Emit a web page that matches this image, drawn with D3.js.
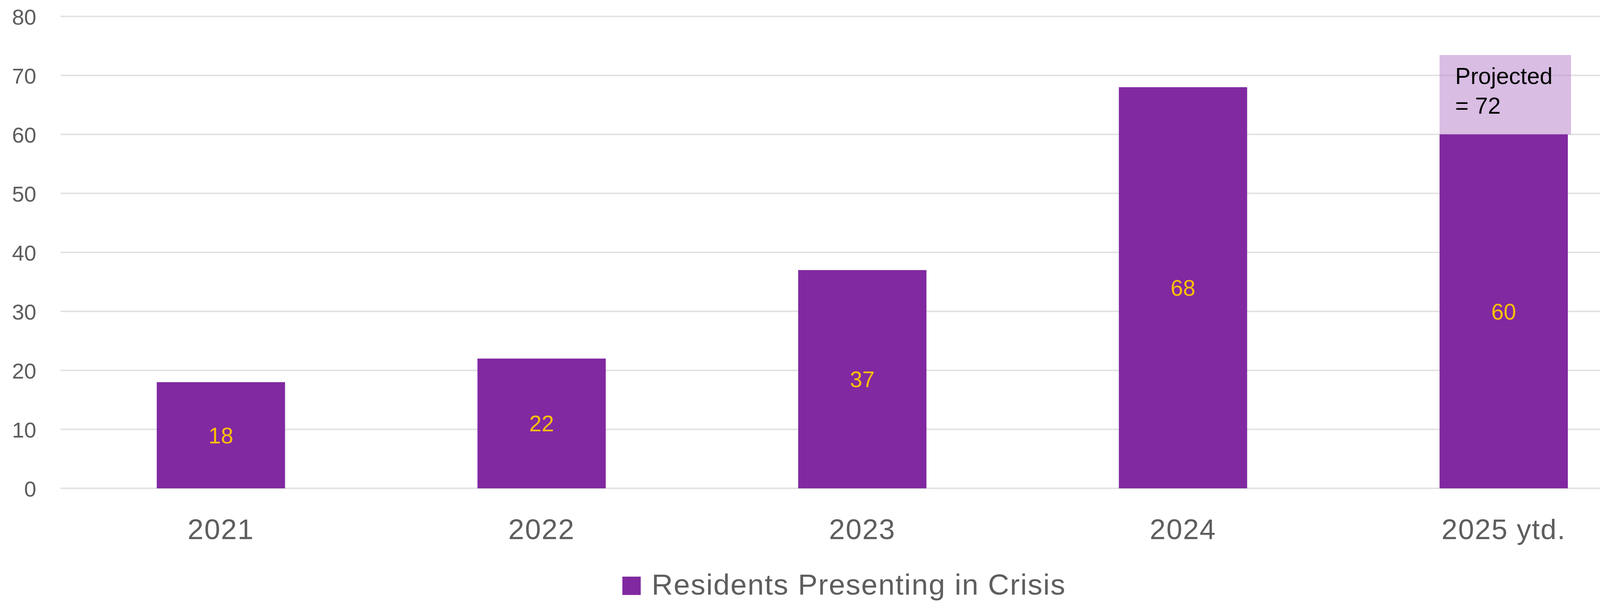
<!DOCTYPE html>
<html>
<head>
<meta charset="utf-8">
<script src="https://cdn.jsdelivr.net/npm/d3@7"></script>
<style>
  html, body { margin: 0; padding: 0; background: #ffffff; overflow: hidden; }
  svg { display: block; }
  text { font-family: "Liberation Sans", Arial, sans-serif; }
</style>
</head>
<body>
<svg id="chart" width="4284" height="1564"></svg>
<script>
// ---- data ----
const categories = ["2021", "2022", "2023", "2024", "2025 ytd."];
const values = [18, 22, 37, 68, 60];
const seriesName = "Residents Presenting in Crisis";
const yTicks = [0, 10, 20, 30, 40, 50, 60, 70, 80];
const projectedCategory = "2025 ytd.";
const projectedValue = 72;
const projectedLines = ["Projected", "= " + projectedValue];

// ---- layout ----
const plot = { left: 155, right: 4260, top: 42, bottom: 1250 };
const barColor = "#8129A1";
const labelColor = "#FFC000";
const axisText = "#5E5E5E";
const gridColor = "#E3E3E3";

const svg = d3.select("#chart");

const x = d3.scaleBand()
  .domain(categories)
  .range([plot.left, plot.right])
  .paddingInner(0.6)
  .paddingOuter(0.3);

const y = d3.scaleLinear()
  .domain([0, 80])
  .range([plot.bottom, plot.top]);

// gridlines
svg.append("g")
  .selectAll("line")
  .data(yTicks)
  .join("line")
  .attr("x1", plot.left)
  .attr("x2", plot.right)
  .attr("y1", d => y(d))
  .attr("y2", d => y(d))
  .attr("stroke", gridColor)
  .attr("stroke-width", 4);

// y-axis labels
const yAxis = d3.axisLeft(y).tickValues(yTicks).tickSize(0).tickPadding(0);
const yg = svg.append("g")
  .attr("transform", `translate(93,0)`)
  .call(yAxis);
yg.select(".domain").remove();
yg.selectAll("text")
  .attr("font-size", 56)
  .attr("fill", axisText)
  .attr("dy", "0.36em")
  .style("font-family", '"Liberation Sans", Arial, sans-serif');

// bars
svg.append("g")
  .selectAll("rect")
  .data(categories)
  .join("rect")
  .attr("x", d => x(d))
  .attr("width", x.bandwidth())
  .attr("y", (d, i) => y(values[i]))
  .attr("height", (d, i) => y(0) - y(values[i]))
  .attr("fill", barColor);

// value labels
svg.append("g")
  .selectAll("text")
  .data(categories)
  .join("text")
  .attr("x", d => x(d) + x.bandwidth() / 2)
  .attr("y", (d, i) => (y(values[i]) + y(0)) / 2)
  .attr("dy", "0.36em")
  .attr("text-anchor", "middle")
  .attr("font-size", 57)
  .attr("fill", labelColor)
  .text((d, i) => values[i]);

// x-axis labels
const xAxis = d3.axisBottom(x).tickSize(0).tickPadding(0);
const xg = svg.append("g")
  .attr("transform", `translate(0,1380)`)
  .call(xAxis);
xg.select(".domain").remove();
xg.selectAll("text")
  .attr("font-size", 73)
  .attr("fill", axisText)
  .attr("dy", 0)
  .attr("y", 0)
  .style("letter-spacing", "2px")
  .style("font-family", '"Liberation Sans", Arial, sans-serif');

// projected annotation box
const pIdx = categories.indexOf(projectedCategory);
const bx = x(projectedCategory);
const boxTop = y(projectedValue) - 22;
const boxBottom = y(values[pIdx]);
const ann = svg.append("g");
ann.append("rect")
  .attr("x", bx)
  .attr("y", boxTop)
  .attr("width", x.bandwidth() + 8)
  .attr("height", boxBottom - boxTop)
  .attr("fill", "#B47BC7")
  .attr("fill-opacity", 0.5);
ann.selectAll("text")
  .data(projectedLines)
  .join("text")
  .attr("x", bx + 40)
  .attr("y", (d, i) => boxTop + 74 + i * 76)
  .attr("font-size", 59)
  .attr("fill", "#000000")
  .text(d => d);

// legend
const leg = svg.append("g");
const sq = 47, gap = 28;
const legText = leg.append("text")
  .attr("y", 1522)
  .attr("font-size", 75)
  .attr("fill", axisText)
  .style("letter-spacing", "2px")
  .text(seriesName);
const tw = legText.node().getComputedTextLength();
const legCenter = 2161;
const legStart = legCenter - (sq + gap + tw) / 2;
leg.append("rect")
  .attr("x", legStart)
  .attr("y", 1476)
  .attr("width", sq)
  .attr("height", sq)
  .attr("fill", barColor);
legText.attr("x", legStart + sq + gap);
</script>
</body>
</html>
